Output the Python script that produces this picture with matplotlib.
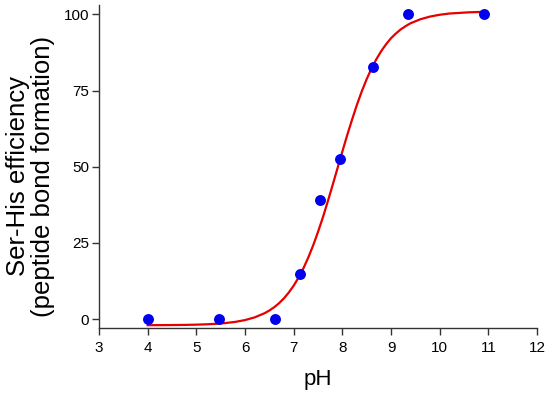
import matplotlib
matplotlib.use("Agg")
import matplotlib.pyplot as plt

plt.rcParams['font.family'] = ['Liberation Sans', 'DejaVu Sans']

# measured points
ph = [4.0, 5.46, 6.61, 7.14, 7.55, 7.95, 8.63, 9.34, 10.92]
efficiency = [0, 0, 0, 14.8, 39.1, 52.7, 82.9, 100, 100]

# fitted curve
curve_ph = [4.0, 4.2, 4.4, 4.6, 4.8, 5.0, 5.2, 5.4, 5.6, 5.8, 6.0, 6.2,
            6.4, 6.5, 6.6, 6.7, 6.8, 6.9, 7.0, 7.1, 7.2, 7.3, 7.4, 7.5,
            7.6, 7.7, 7.8, 7.9, 8.0, 8.1, 8.2, 8.3, 8.4, 8.5, 8.6, 8.7,
            8.8, 8.9, 9.0, 9.1, 9.2, 9.3, 9.4, 9.6, 9.8, 10.0, 10.2, 10.4,
            10.6, 10.8, 10.92]
curve_eff = [-1.98, -1.96, -1.94, -1.91, -1.87, -1.80, -1.69, -1.53, -1.27,
             -0.89, -0.30, 0.60, 1.94, 2.84, 3.93, 5.25, 6.85, 8.75, 11.0,
             13.64, 16.7, 20.23, 24.2, 28.63, 33.4, 38.6, 44.0, 49.5, 55.0,
             60.4, 65.5, 70.38, 74.8, 78.77, 82.3, 85.35, 88.0, 90.25, 92.2,
             93.74, 95.1, 96.16, 97.1, 98.4, 99.3, 99.9, 100.3, 100.5, 100.7,
             100.8, 100.85]

x_ticks = [3, 4, 5, 6, 7, 8, 9, 10, 11, 12]
y_ticks = [0, 25, 50, 75, 100]

fig = plt.figure(figsize=(5.5, 3.93), dpi=100)
ax = fig.add_axes([0.18, 0.1646, 0.7964, 0.8219])

ax.plot(curve_ph, curve_eff, color='#e60000', lw=1.6, zorder=2)
ax.scatter(ph, efficiency, s=62, color='#0000ee', zorder=3, linewidths=0)

ax.set_xlim(3, 12)
ax.set_ylim(-3, 103)
ax.set_xticks(x_ticks)
ax.set_yticks(y_ticks)

for side in ['top', 'right']:
    ax.spines[side].set_visible(False)
for side in ['left', 'bottom']:
    ax.spines[side].set_color('#333333')
    ax.spines[side].set_linewidth(1.0)

ax.tick_params(direction='out', length=5, width=1, color='#333333',
               labelsize=11, pad=2)
ax.tick_params(axis='x', pad=4)

ax.set_xlabel('pH', fontsize=16, labelpad=10)
ax.set_ylabel('Ser-His efficiency\n(peptide bond formation)', fontsize=18.5,
              linespacing=1.05)
ax.yaxis.set_label_coords(-0.10, 0.47)

fig.savefig('out.png', dpi=100)
